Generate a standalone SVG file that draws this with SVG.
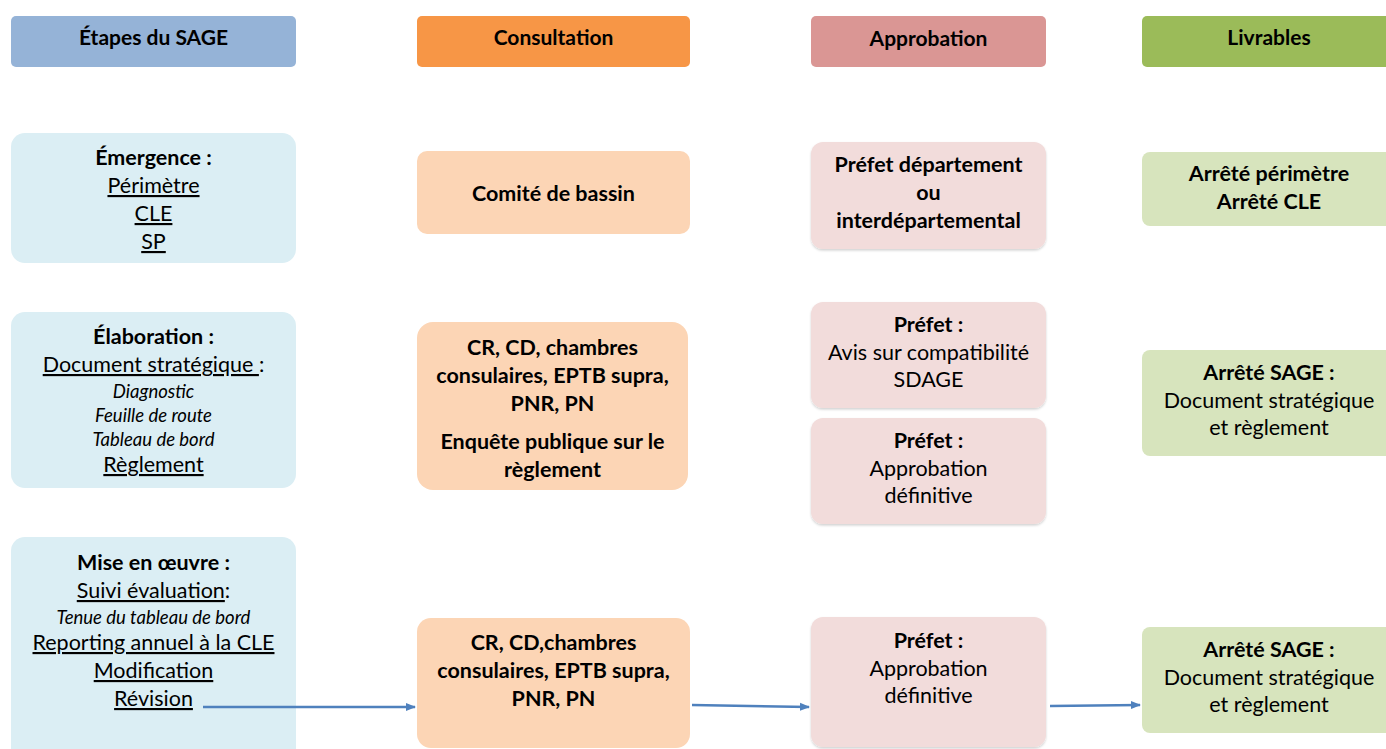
<svg xmlns="http://www.w3.org/2000/svg" width="1386" height="749" viewBox="0 0 1386 749">
<defs>
<marker id="ah" markerWidth="10" markerHeight="10" refX="9" refY="5" orient="auto" markerUnits="userSpaceOnUse">
<path d="M0,1 L10,5 L0,9 z" fill="#4f81bd"/>
</marker>
<filter id="sh" x="-5%" y="-5%" width="110%" height="115%">
<feDropShadow dx="0" dy="1.5" stdDeviation="1" flood-color="#000" flood-opacity="0.18"/>
</filter>
</defs>
<style>
text{font-family:Lato,"Open Sans","Liberation Sans",sans-serif;font-size:21.5px;fill:#000;text-anchor:middle}
.h{font-weight:bold;font-size:21px}
.b{font-weight:bold}
.i{font-style:italic;font-size:18.5px}
.u{text-decoration:underline}
.c1{fill:#dbeef4}
.c2{fill:#fcd5b5}
.c3{fill:#f2dcdb}
.c4{fill:#d7e4bd}
.conn{stroke:#4f81bd;stroke-width:2.5;fill:none}
</style>
<rect width="1386" height="749" fill="#fff"/>
<g id="h1"><rect x="11" y="16" width="285" height="51" rx="5" fill="#95b3d7"/><text class="h" x="153.5" y="45">Étapes du SAGE</text></g>
<g id="h2"><rect x="417" y="16" width="273" height="51" rx="5" fill="#f79646"/><text class="h" x="553.5" y="45">Consultation</text></g>
<g id="h3"><rect x="811" y="16" width="235" height="51" rx="5" fill="#da9694"/><text class="h" x="928.5" y="46">Approbation</text></g>
<g id="h4"><rect x="1142" y="16" width="254" height="51" rx="5" fill="#9bbb59"/><text class="h" x="1269" y="45">Livrables</text></g>

<g id="n-emergence"><rect class="c1" x="11" y="133" width="285" height="130" rx="14"/>
<text x="153.5" y="165" class="b">Émergence :</text>
<text x="153.5" y="193" class="u">Périmètre</text>
<text x="153.5" y="221" class="u">CLE</text>
<text x="153.5" y="249" class="u">SP</text></g>

<g id="n-elaboration"><rect class="c1" x="11" y="312" width="285" height="176" rx="14"/>
<text x="153.5" y="344" class="b">Élaboration :</text>
<text x="153.5" y="372"><tspan class="u">Document stratégique </tspan>:</text>
<text x="153.5" y="398" class="i">Diagnostic</text>
<text x="153.5" y="422" class="i">Feuille de route</text>
<text x="153.5" y="446" class="i">Tableau de bord</text>
<text x="153.5" y="472" class="u">Règlement</text></g>

<g id="n-miseenoeuvre"><rect class="c1" x="11" y="537" width="285" height="225" rx="14"/>
<text x="153.5" y="570" class="b">Mise en œuvre :</text>
<text x="153.5" y="598"><tspan class="u">Suivi évaluation</tspan>:</text>
<text x="153.5" y="624" class="i">Tenue du tableau de bord</text>
<text x="153.5" y="650" class="u">Reporting annuel à la CLE</text>
<text x="153.5" y="678" class="u">Modification</text>
<text x="153.5" y="706" class="u">Révision</text></g>

<g id="n-comite"><rect class="c2" x="417" y="151" width="273" height="83" rx="10"/>
<text x="553.5" y="201" class="b">Comité de bassin</text></g>

<g id="n-cr1"><rect class="c2" x="417" y="322" width="271" height="168" rx="16"/>
<text x="552.5" y="355" class="b">CR, CD, chambres</text>
<text x="552.5" y="383" class="b">consulaires, EPTB supra,</text>
<text x="552.5" y="411" class="b">PNR, PN</text>
<text x="552.5" y="449" class="b">Enquête publique sur le</text>
<text x="552.5" y="477" class="b">règlement</text></g>

<g id="n-cr2"><rect class="c2" x="417" y="618" width="273" height="130" rx="14"/>
<text x="553.5" y="650" class="b">CR, CD,chambres</text>
<text x="553.5" y="678" class="b">consulaires, EPTB supra,</text>
<text x="553.5" y="706" class="b">PNR, PN</text></g>

<g id="n-prefet-dep"><rect class="c3" x="811" y="142" width="235" height="107" rx="12" filter="url(#sh)"/>
<text x="928.5" y="172" class="b">Préfet département</text>
<text x="928.5" y="200" class="b">ou</text>
<text x="928.5" y="228" class="b">interdépartemental</text></g>

<g id="n-prefet-avis"><rect class="c3" x="811" y="302" width="235" height="106" rx="12" filter="url(#sh)"/>
<text x="928.5" y="332" class="b">Préfet :</text>
<text x="928.5" y="360">Avis sur compatibilité</text>
<text x="928.5" y="387">SDAGE</text></g>

<g id="n-prefet-appro1"><rect class="c3" x="811" y="418" width="235" height="106" rx="12" filter="url(#sh)"/>
<text x="928.5" y="448" class="b">Préfet :</text>
<text x="928.5" y="476">Approbation</text>
<text x="928.5" y="503">définitive</text></g>

<g id="n-prefet-appro2"><rect class="c3" x="811" y="617" width="235" height="130" rx="12" filter="url(#sh)"/>
<text x="928.5" y="648" class="b">Préfet :</text>
<text x="928.5" y="676">Approbation</text>
<text x="928.5" y="703">définitive</text></g>

<g id="n-arrete-perimetre"><rect class="c4" x="1142" y="152" width="254" height="74" rx="8"/>
<text x="1269" y="181" class="b">Arrêté périmètre</text>
<text x="1269" y="209" class="b">Arrêté CLE</text></g>

<g id="n-arrete-sage1"><rect class="c4" x="1142" y="350" width="254" height="106" rx="8"/>
<text x="1269" y="380" class="b">Arrêté SAGE :</text>
<text x="1269" y="408">Document stratégique</text>
<text x="1269" y="435">et règlement</text></g>

<g id="n-arrete-sage2"><rect class="c4" x="1142" y="627" width="254" height="106" rx="8"/>
<text x="1269" y="657" class="b">Arrêté SAGE :</text>
<text x="1269" y="685">Document stratégique</text>
<text x="1269" y="712">et règlement</text></g>

<g id="connectors">
<line class="conn" x1="203" y1="707" x2="415" y2="707" marker-end="url(#ah)"/>
<line class="conn" x1="692" y1="705" x2="809" y2="707" marker-end="url(#ah)"/>
<line class="conn" x1="1050" y1="706" x2="1140" y2="705" marker-end="url(#ah)"/>
</g>
</svg>
